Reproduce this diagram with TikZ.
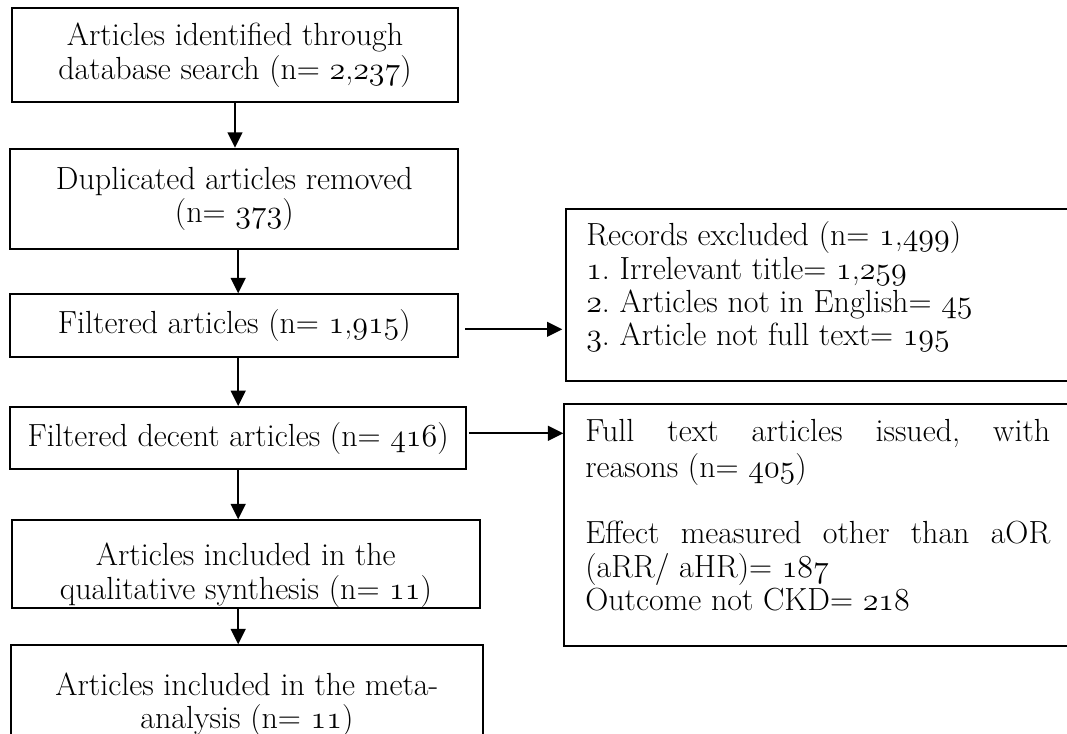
\RequirePackage{fix-cm}
\documentclass[tikz,border=0pt]{standalone}
\usetikzlibrary{positioning, arrows.meta}
\newcommand{\osn}[1]{{\usefont{OML}{cmm}{m}{it}#1}}
\tikzset{
    >={Triangle[length=11.5pt, width=11pt]}, % filled arrow heads
    every node/.style={font=\fontsize{24pt}{25pt}\selectfont\frenchspacing},
    box/.style={draw, line width=1.5pt, anchor=north west, align=center, inner sep=0pt}, % main column
    side/.style={draw, line width=1.5pt, anchor=north west, minimum width=420pt}, % exclusion boxes
    note/.style={anchor=north west, inner sep=0pt, text width=348.75pt, align=justify},
    flow/.style={->, line width=1.7pt},
}
\begin{document}
\begin{tikzpicture}[x=0.75pt, y=-0.75pt]
    \clip (0,0) rectangle (1067,733);

    % main column
    \node[box, minimum width=335pt, minimum height=70.3pt] (ident) at (10.7,7.3)
        {Articles identified through\\ database search (n= \osn{2},\osn{237})};
    \node[box, minimum width=336pt, minimum height=75.5pt] (dupl) at (9.3,147.7)
        {Duplicated articles removed\\ (n= \osn{373})};
    \node[box, minimum width=336pt, minimum height=47pt] (filt) at (9.3,293.3)
        {Filtered articles (n= \osn{1},\osn{915})};
    \node[box, minimum width=341.8pt, minimum height=46.7pt] (decent) at (9.3,406)
        {Filtered decent articles (n= \osn{416})};
    \node[box, minimum width=351.2pt, minimum height=65.5pt] (qual) at (10.7,519.3)
        {\rule{0pt}{34pt}Articles included in the\\ qualitative synthesis (n= \osn{11})};
    \node[box, minimum width=353.8pt, minimum height=89.3pt] (meta) at (10,644.3)
        {Articles included in the meta-\\ analysis (n= \osn{11})};

    % exclusions
    \node[side, minimum height=128.8pt] (excl) at (565,208.3) {};
    \node[note, below right=10pt and 15.75pt of excl.north west] (excltext)
        {\strut Records excluded (n= \osn{1},\osn{499})\\
         \osn{1}. Irrelevant title= \osn{1},\osn{259}\\
         \osn{2}. Articles not in English= \osn{45}\\
         \osn{3}. Article not full text= \osn{195}};
    \node[side, minimum height=181.3pt] (full) at (563.3,403.3) {};
    \node[note, below right=11.3pt and 16.3pt of full.north west] (fulltext)
        {\strut Full text articles issued, with\linebreak reasons (n= \osn{405})\\[25pt]
         Effect measured other than aOR\linebreak (aRR/ aHR)= \osn{187}\\
         Outcome not CKD= \osn{218}};

    \draw[flow] (ident.south) -- (ident.south |- dupl.north);
    \draw[flow] (dupl.south -| decent.south) -- (decent.south |- filt.north);
    \draw[flow] (filt.south -| decent.south) -- (decent.south |- decent.north);
    \draw[flow] (decent.south) -- (decent.south |- qual.north);
    \draw[flow] (qual.south -| decent.south) -- (decent.south |- meta.north);

    \coordinate (out1) at ([yshift=-2.75pt, xshift=4.5pt]filt.east);
    \coordinate (out2) at ([yshift=3.6pt, xshift=1.3pt]decent.east);
    \draw[flow, shorten >=2pt] (out1) -- (out1 -| excl.west);
    \draw[flow] (out2) -- (out2 -| full.west);
\end{tikzpicture}
\end{document}
